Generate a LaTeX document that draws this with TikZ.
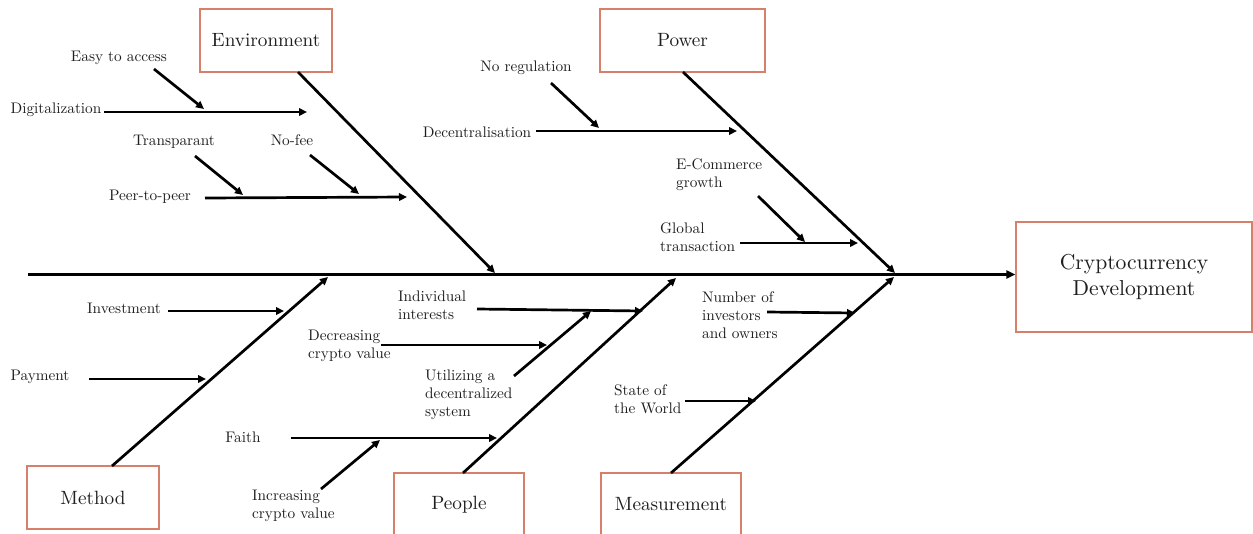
\documentclass[tikz,border=0pt]{standalone}
\usepackage{fontspec}
\setmainfont{lmroman10-regular.otf}
\usetikzlibrary{arrows.meta}
\definecolor{boxcol}{RGB}{214,128,108}
\definecolor{txtcol}{RGB}{30,30,30}
\begin{document}
\begin{tikzpicture}[x=1pt,y=-1pt,
  catbox/.style={draw=boxcol,line width=1.4pt,text=txtcol,inner sep=0pt,font=\fontsize{19.2}{24}\selectfont},
  effbox/.style={draw=boxcol,line width=1.4pt,text=txtcol,inner sep=0pt,align=center,font=\fontsize{21.6}{26}\selectfont},
  lbl/.style={text=txtcol,inner sep=0pt,font=\fontsize{15.3}{18}\selectfont},
  mlbl/.style={lbl,align=left,anchor=west},
  arr/.style={line width=2.7pt,-{Triangle[length=8pt,width=7.5pt]}},
  bone/.style={line width=2.7pt,-{Triangle[length=8pt,width=7.5pt]}},
  spine/.style={line width=2.9pt,-{Triangle[length=9pt,width=8pt]}}]
\clip (0,0) rectangle (1253,533);
\fill[white] (0,0) rectangle (1253,533);

% boxes
\node[catbox,minimum width=132pt,minimum height=63pt] (env) at (266,40.5) {Environment};
\node[catbox,minimum width=165pt,minimum height=63pt] (pow) at (682.5,40.5) {Power};
\node[catbox,minimum width=132pt,minimum height=63pt] (met) at (93,497.5) {Method};
\node[catbox,minimum width=130pt,minimum height=63pt] (peo) at (459,504.5) {People};
\node[catbox,minimum width=140pt,minimum height=63pt] (mea) at (671,504.5) {Measurement};
\node[effbox,minimum width=236pt,minimum height=110pt] (eff) at (1134,277) {Cryptocurrency\\Development};

% spine
\coordinate (sp0) at (28,274.5);
\draw[spine] (sp0) -- (sp0 -| eff.west);

% bones
\coordinate (envs) at (298,72);   \coordinate (enve) at (495,273);
\coordinate (pows) at (683,72);   \coordinate (powe) at (895,273);
\coordinate (mets) at (112,466);  \coordinate (mete) at (328,277);
\coordinate (peos) at (463,473);  \coordinate (peoe) at (676,278);
\coordinate (meas) at (671,473);  \coordinate (meae) at (894,277);
\draw[bone] (envs) -- (enve);
\draw[bone] (pows) -- (powe);
\draw[bone] (mets) -- (mete);
\draw[bone] (peos) -- (peoe);
\draw[bone] (meas) -- (meae);

% Environment causes
\node[lbl] (easy) at (119,58) {Easy to access};
\node[lbl] (digi) at (56,110) {Digitalization};
\node[lbl] (tran) at (174,142) {Transparant};
\node[lbl] (nofe) at (292,140) {No-fee};
\node[lbl] (peer) at (150,197) {Peer-to-peer};
\coordinate (easys) at (154,69);  \coordinate (easye) at (204,109);
\coordinate (digis) at (104,112); \coordinate (digie) at (307,112);
\coordinate (trans) at (195,156); \coordinate (trane) at (243,195);
\coordinate (nofes) at (310,155); \coordinate (nofee) at (359,194);
\coordinate (peers) at (205,198); \coordinate (peere) at (407,197);
\draw[arr] (easys) -- (easye);
\draw[arr] (digis) -- (digie);
\draw[arr] (trans) -- (trane);
\draw[arr] (nofes) -- (nofee);
\draw[arr] (peers) -- (peere);

% Power causes
\node[lbl] (noreg) at (526,68) {No regulation};
\node[lbl] (dece) at (477,132) {Decentralisation};
\node[mlbl] (ecom) at (676,175) {E-Commerce\\growth};
\node[mlbl] (glob) at (660,237) {Global\\transaction};
\coordinate (noregs) at (551,83);  \coordinate (norege) at (599,128);
\coordinate (deces) at (536,131);  \coordinate (decee) at (737,131);
\coordinate (ecoms) at (758,196);  \coordinate (ecome) at (805,242);
\coordinate (globs) at (740,243);  \coordinate (globe) at (858,243);
\draw[arr] (noregs) -- (norege);
\draw[arr] (deces) -- (decee);
\draw[arr] (ecoms) -- (ecome);
\draw[arr] (globs) -- (globe);

% Method causes
\node[lbl] (inv) at (124,308) {Investment};
\node[lbl] (pay) at (40,377) {Payment};
\coordinate (invs) at (168,311); \coordinate (inve) at (284,311);
\coordinate (pays) at (89,379);  \coordinate (paye) at (206,379);
\draw[arr] (invs) -- (inve);
\draw[arr] (pays) -- (paye);

% People causes
\node[mlbl] (indi) at (398,305) {Individual\\interests};
\node[mlbl] (decr) at (308,346) {Decreasing\\crypto value};
\node[mlbl] (util) at (425,395) {Utilizing a\\decentralized\\system};
\node[lbl] (fait) at (243,437) {Faith};
\node[mlbl] (incr) at (252,506) {Increasing\\crypto value};
\coordinate (indis) at (477,309); \coordinate (indie) at (643,311);
\coordinate (decrs) at (381,345); \coordinate (decre) at (547,345);
\coordinate (utils) at (514,376); \coordinate (utile) at (591,311);
\coordinate (faits) at (291,438); \coordinate (faite) at (497,438);
\coordinate (incrs) at (321,489); \coordinate (incre) at (380,440);
\draw[arr] (indis) -- (indie);
\draw[arr] (decrs) -- (decre);
\draw[arr] (utils) -- (utile);
\draw[arr] (faits) -- (faite);
\draw[arr] (incrs) -- (incre);

% Measurement causes
\node[mlbl] (numb) at (702,315) {Number of\\investors\\and owners};
\node[mlbl] (stat) at (614,399) {State of\\the World};
\coordinate (numbs) at (767,312); \coordinate (numbe) at (855,313);
\coordinate (stats) at (685,401); \coordinate (state) at (756,401);
\draw[arr] (numbs) -- (numbe);
\draw[arr] (stats) -- (state);
\end{tikzpicture}
\end{document}
